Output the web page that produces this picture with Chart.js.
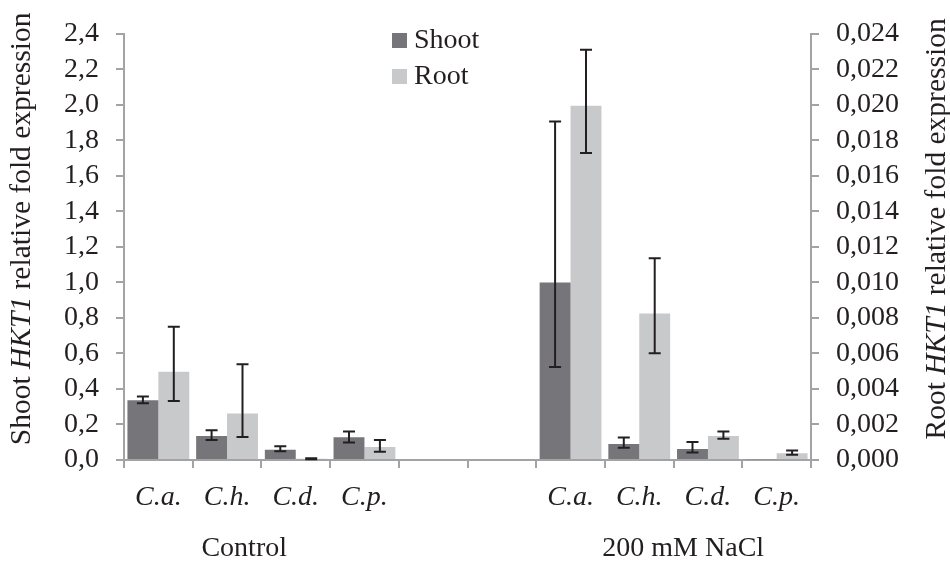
<!DOCTYPE html>
<html>
<head>
<meta charset="utf-8">
<script src="https://cdn.jsdelivr.net/npm/chart.js@4/dist/chart.umd.min.js"></script>
<style>
  body { margin: 0; background: #fff; }
  #wrap { width: 950px; height: 563px; }
</style>
</head>
<body>
<div id="wrap"><canvas id="chart" width="950" height="563"></canvas></div>
<script>
// categories (two empty slots separate the two treatments)
const categories = ['C.a.', 'C.h.', 'C.d.', 'C.p.', '', '', 'C.a.', 'C.h.', 'C.d.', 'C.p.']
const groups = ['Control', '200 mM NaCl']

// shoot, left axis
const shoot     = [0.336, 0.135, 0.058, 0.128, null, null, 1.0,   0.090, 0.062, 0.004]
const shootLow  = [0.319, 0.113, 0.049, 0.099, null, null, 0.523, 0.069, 0.042, null]
const shootHigh = [0.357, 0.167, 0.077, 0.161, null, null, 1.906, 0.126, 0.102, null]

// root, right axis
const root     = [0.00497, 0.00262, 0.00007, 0.00073, null, null, 0.01995, 0.00825, 0.00135, 0.000385]
const rootLow  = [0.00332, 0.00130, 0.00004, 0.00047, null, null, 0.01729, 0.00601, 0.00119, 0.00029]
const rootHigh = [0.00751, 0.00539, 0.00010, 0.00113, null, null, 0.02310, 0.01136, 0.00160, 0.00053]

const leftTicks = [0, 0.2, 0.4, 0.6, 0.8, 1.0, 1.2, 1.4, 1.6, 1.8, 2.0, 2.2, 2.4]
const rightTicks = [0, 0.002, 0.004, 0.006, 0.008, 0.010, 0.012, 0.014, 0.016, 0.018, 0.020, 0.022, 0.024]

const SHOOT_COLOR = '#76767a'
const ROOT_COLOR = '#c8c9cb'
const AXIS_COLOR = '#a3a3a6'
const SERIF = '"Liberation Serif", "Times New Roman", serif'

const errorBars = {
  id: 'errorBars',
  afterDatasetsDraw(chart){
    const ctx = chart.ctx
    const sets = [[shootLow, shootHigh, 'y'], [rootLow, rootHigh, 'y1']]
    ctx.save()
    ctx.strokeStyle = '#231f20'
    ctx.lineWidth = 2
    sets.forEach(([lo, hi, axis], di) => {
      const meta = chart.getDatasetMeta(di)
      const scale = chart.scales[axis]
      meta.data.forEach((bar, i) => {
        if(lo[i] == null || hi[i] == null) return
        const x = bar.x
        const y1 = scale.getPixelForValue(hi[i])
        const y2 = scale.getPixelForValue(lo[i])
        ctx.beginPath()
        ctx.moveTo(x, y1); ctx.lineTo(x, y2)
        ctx.moveTo(x - 6, y1); ctx.lineTo(x + 6, y1)
        ctx.moveTo(x - 6, y2); ctx.lineTo(x + 6, y2)
        ctx.stroke()
      })
    })
    ctx.restore()
  }
}

// axis titles with italic gene name, group labels and legend
const extras = {
  id: 'extras',
  afterDraw(chart){
    const ctx = chart.ctx
    const area = chart.chartArea
    const cy = (area.top + area.bottom) / 2 - 18
    const normal = '28px ' + SERIF
    const titleNormal = '29.5px ' + SERIF
    const titleItalic = 'italic 29.5px ' + SERIF

    function rotatedTitle(x, first){
      const parts = [[first + ' ', titleNormal], ['HKT1', titleItalic], [' relative fold expression', titleNormal]]
      let total = 0
      parts.forEach(p => { ctx.font = p[1]; total += ctx.measureText(p[0]).width })
      ctx.save()
      ctx.translate(x, cy)
      ctx.rotate(-Math.PI / 2)
      ctx.fillStyle = '#231f20'
      ctx.textBaseline = 'middle'
      ctx.textAlign = 'left'
      let pos = -total / 2
      parts.forEach(p => {
        ctx.font = p[1]
        ctx.fillText(p[0], pos, 0)
        pos += ctx.measureText(p[0]).width
      })
      ctx.restore()
    }
    rotatedTitle(22, 'Shoot')
    rotatedTitle(937, 'Root')

    // treatment labels under the category labels
    const xs = chart.scales.x
    ctx.save()
    ctx.font = normal
    ctx.fillStyle = '#231f20'
    ctx.textAlign = 'center'
    ctx.textBaseline = 'alphabetic'
    ctx.fillText(groups[0], xs.getPixelForValue(1.25), 556)
    ctx.fillText(groups[1], xs.getPixelForValue(7.64), 556)

    // legend
    const items = [['Shoot', SHOOT_COLOR], ['Root', ROOT_COLOR]]
    items.forEach((it, k) => {
      const top = 33 + k * 36
      ctx.fillStyle = it[1]
      ctx.fillRect(392, top, 15, 15)
      ctx.fillStyle = '#231f20'
      ctx.textAlign = 'left'
      ctx.fillText(it[0], 414, top + 15)
    })
    ctx.restore()
  }
}

const tickFont = { family: SERIF, size: 28 }

const config = {
  type: 'bar',
  data: {
    labels: categories,
    datasets: [
      { label: 'Shoot', data: shoot, backgroundColor: SHOOT_COLOR, yAxisID: 'y',
        categoryPercentage: 0.9, barPercentage: 1.0 },
      { label: 'Root', data: root, backgroundColor: ROOT_COLOR, yAxisID: 'y1',
        categoryPercentage: 0.9, barPercentage: 1.0 }
    ]
  },
  options: {
    responsive: false,
    animation: false,
    layout: { padding: { top: 24, left: 0, right: 0, bottom: 0 } },
    plugins: {
      legend: { display: false },
      tooltip: { enabled: false }
    },
    scales: {
      x: {
        grid: { drawOnChartArea: false, offset: true, tickLength: 8, color: AXIS_COLOR, lineWidth: 2 },
        border: { color: AXIS_COLOR, width: 2 },
        ticks: { font: { family: SERIF, size: 28, style: 'italic' }, color: '#231f20', padding: 13, maxRotation: 0, autoSkip: false },
        afterFit(scale){ scale.height = 103 }
      },
      y: {
        position: 'left',
        min: 0, max: 2.4,
        afterBuildTicks(scale){ scale.ticks = leftTicks.map(v => ({ value: v })) },
        grid: { drawOnChartArea: false, tickLength: 8, color: AXIS_COLOR, lineWidth: 2 },
        border: { color: AXIS_COLOR, width: 2 },
        ticks: { font: tickFont, color: '#231f20', padding: 17, autoSkip: false,
          callback: v => v.toFixed(1).replace('.', ',') },
        afterFit(scale){ scale.width = 124 }
      },
      y1: {
        position: 'right',
        min: 0, max: 0.024,
        afterBuildTicks(scale){ scale.ticks = rightTicks.map(v => ({ value: v })) },
        grid: { drawOnChartArea: false, tickLength: 8, color: AXIS_COLOR, lineWidth: 2 },
        border: { color: AXIS_COLOR, width: 2 },
        ticks: { font: tickFont, color: '#231f20', padding: 17, autoSkip: false,
          callback: v => v.toFixed(3).replace('.', ',') },
        afterFit(scale){ scale.width = 139 }
      }
    }
  },
  plugins: [errorBars, extras]
}

const ctx = document.getElementById('chart').getContext('2d')
const chart = new Chart(ctx, config)
</script>
</body>
</html>
